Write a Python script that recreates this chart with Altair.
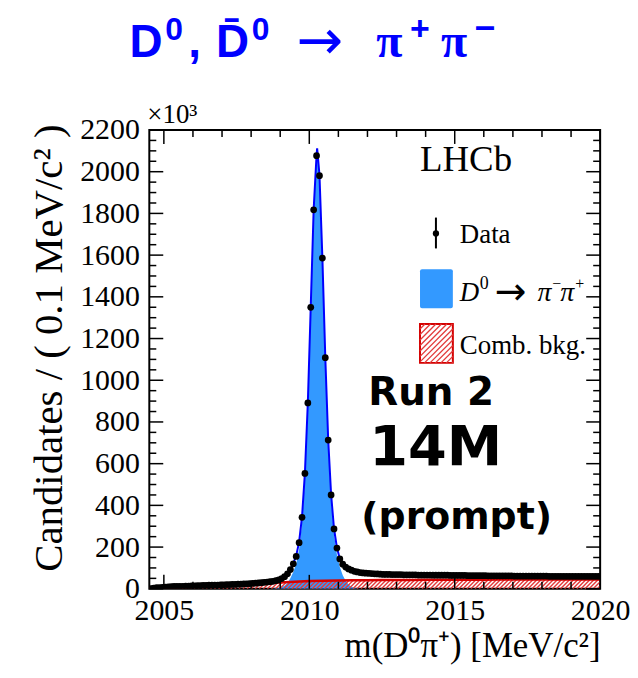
import altair as alt
import numpy as np
import pandas as pd

# ---------------- data ----------------
X_MIN, X_MAX = 2004.5, 2020.0
Y_MIN, Y_MAX = 0, 2200

# bin centres (0.1 MeV bins)
bin_centres = [round(2004.55 + 0.1 * i, 2) for i in range(155)]
counts = (
    [1, 3, 5, 6, 7, 8, 9, 10, 11, 11,
     12, 12, 13, 13, 14, 14, 15, 15, 16, 16,
     17, 17, 18, 18, 19, 19, 20, 20, 21, 21,
     22, 22, 23, 24, 25, 26, 27, 28, 29, 31,
     32, 34, 36, 39, 43, 49, 58, 72, 92]
    + [120, 155, 221, 343, 553, 891, 1350, 1817, 2077, 1981, 1586, 1108, 713, 450, 287, 195, 143]
    + [118, 104, 95, 89, 84, 81, 78, 76, 75, 74, 73, 72, 71, 70]
    + [69, 69, 69, 68, 68, 68, 68, 67, 67, 67,
       67, 67, 66, 66, 66, 66, 66, 65, 65, 65,
       65, 65, 65, 64, 64, 64, 64, 64, 64, 63,
       63, 63, 63, 63, 63, 63, 62, 62, 62, 62,
       62, 62, 62, 62, 62, 61, 61, 61, 61, 61,
       61, 61, 61, 61, 61, 61, 61, 60, 60, 60,
       60, 60, 60, 60, 60, 60, 60, 60, 60, 60,
       60, 60, 60, 60, 60]
)

fit_x = [2008.75, 2008.85, 2008.95, 2009.05, 2009.15, 2009.25, 2009.35, 2009.45,
         2009.55, 2009.65, 2009.75, 2009.85, 2009.95, 2010.05, 2010.15, 2010.25,
         2010.27, 2010.35, 2010.45, 2010.55, 2010.65, 2010.75, 2010.85, 2010.95,
         2011.05, 2011.15, 2011.25, 2011.35, 2011.45, 2011.55, 2011.65, 2011.75]
fit_total = [36, 39, 43, 49, 58, 72, 93, 122,
             158, 225, 345, 556, 893, 1352, 1818, 2080,
             2112, 1985, 1588, 1110, 715, 452, 289, 197,
             144, 118, 104, 95, 89, 84, 81, 78]
fit_signal = [1, 2, 4, 8, 15, 28, 50, 80,
              120, 190, 315, 525, 865, 1325, 1795, 2058,
              2092, 1963, 1566, 1087, 690, 425, 260, 165,
              105, 65, 38, 20, 10, 4, 1, 0]

bkg_x = [2004.5 + 0.5 * i for i in range(32)]
bkg_y = [0, 3, 5, 8, 11, 14, 18, 22, 26, 30, 34, 37, 39, 40, 41, 41,
         42, 42, 42, 43, 43, 43, 43, 43, 44, 44, 44, 44, 44, 44, 44, 44]

x_major = [2005, 2010, 2015, 2020]
x_minor = [v for v in range(2005, 2021) if v not in x_major]
y_major = list(range(0, 2201, 200))
y_minor = [v for v in range(0, 2201, 50) if v % 200 != 0]

# ---------------- layout ----------------
W, H = 453, 461
BLUE_FILL = "#3399ff"
FIT_BLUE = "#0000ff"
RED = "#d40000"
HATCH = "#e23a3a"
SERIF = "Liberation Serif"
SANS = "Liberation Sans"

xs = alt.Scale(domain=[X_MIN, X_MAX], nice=False, zero=False)
ys = alt.Scale(domain=[Y_MIN, Y_MAX], nice=False, zero=False)

x_axis = alt.Axis(values=x_major, format="d", ticks=False, domain=False, grid=False,
                  labelFont=SERIF, labelFontSize=30, labelColor="black",
                  labelPadding=7, labelFlush=False, labelOverlap=False,
                  title="m(D⁰π⁺) [MeV/c²]", titleFont=SERIF, titleFontSize=35,
                  titleFontWeight="normal", titleColor="black",
                  titleX=W, titleY=68, titleAlign="right", titleBaseline="alphabetic",
                  titleAngle=0)
y_axis = alt.Axis(values=y_major, format="d", ticks=False, domain=False, grid=False,
                  labelFont=SERIF, labelFontSize=30, labelColor="black",
                  labelPadding=10, labelFlush=False, labelOverlap=False,
                  title="Candidates / ( 0.1 MeV/c² )", titleFont=SERIF,
                  titleFontSize=41, titleFontWeight="normal", titleColor="black",
                  titleX=-100, titleY=-6, titleAngle=270, titleAlign="right",
                  titleBaseline="middle")


def X(f):
    return alt.X(f, type="quantitative", scale=xs, axis=x_axis)


def Y(f):
    return alt.Y(f, type="quantitative", scale=ys, axis=y_axis)


df_data = pd.DataFrame({"m": bin_centres, "n": counts})
df_fit = pd.DataFrame({"m": fit_x, "tot": fit_total, "sig": fit_signal})
df_bkg = pd.DataFrame({"m": bkg_x, "b": bkg_y})

# hatch segments under the background curve (45 degrees on screen)
px_x = W / (X_MAX - X_MIN)
px_y = H / (Y_MAX - Y_MIN)
rows = []
for s in np.arange(X_MIN, X_MAX, 0.14):
    b = np.interp(s, bkg_x, bkg_y)
    d = b * px_y / px_x
    for _ in range(3):
        b2 = np.interp(s + d, bkg_x, bkg_y)
        d = b2 * px_y / px_x
    if b2 > 0:
        rows.append({"m": s, "z": 0.0, "m2": s + d, "b2": b2})
df_hatch = pd.DataFrame(rows)

layers = []

# signal fill
layers.append(alt.Chart(df_fit).mark_area(color=BLUE_FILL, opacity=1, clip=True).encode(
    x=X("m"), y=Y("sig")))

# combinatorial background hatch + line
layers.append(alt.Chart(df_hatch).mark_rule(color=HATCH, strokeWidth=1.4, clip=True).encode(
    x=X("m"), y=Y("z"), x2="m2", y2="b2"))
layers.append(alt.Chart(df_bkg).mark_line(color=RED, strokeWidth=2.5, clip=True).encode(
    x=X("m"), y=Y("b")))

# total fit
layers.append(alt.Chart(df_fit).mark_line(color=FIT_BLUE, strokeWidth=2, clip=True).encode(
    x=X("m"), y=Y("tot")))

# data points
layers.append(alt.Chart(df_data).mark_circle(color="black", size=46, opacity=1, clip=True).encode(
    x=X("m"), y=Y("n")))

# ticks (inside, all four sides)
df_xmaj = pd.DataFrame({"m": x_major})
df_xmin = pd.DataFrame({"m": x_minor})
df_ymaj = pd.DataFrame({"n": y_major})
df_ymin = pd.DataFrame({"n": y_minor})
for df, ln in ((df_xmaj, 14), (df_xmin, 7)):
    layers.append(alt.Chart(df).mark_rule(color="black", strokeWidth=1.5).encode(
        x=X("m"), y=alt.value(H), y2=alt.value(H - ln)))
    layers.append(alt.Chart(df).mark_rule(color="black", strokeWidth=1.5).encode(
        x=X("m"), y=alt.value(0), y2=alt.value(ln)))
for df, ln in ((df_ymaj, 14), (df_ymin, 7)):
    layers.append(alt.Chart(df).mark_rule(color="black", strokeWidth=1.5).encode(
        y=Y("n"), x=alt.value(0), x2=alt.value(ln)))
    layers.append(alt.Chart(df).mark_rule(color="black", strokeWidth=1.5).encode(
        y=Y("n"), x=alt.value(W), x2=alt.value(W - ln)))


def txt(s, x, y, size, font=SERIF, weight="normal", style="normal", align="left",
        baseline="middle", color="black"):
    return alt.Chart(pd.DataFrame({"t": [s]})).mark_text(
        text=s, font=font, fontSize=size, fontWeight=weight, fontStyle=style,
        align=align, baseline=baseline, color=color).encode(
        x=alt.value(x), y=alt.value(y))


def one():
    return alt.Chart(pd.DataFrame({"k": [0]}))


# title, composed of pieces (main glyphs + superscripts)
TB = "#0000ff"
BASE, SUP = -73, -90
title_pieces = [
    ("D", -20, BASE, 46, SANS, "bold", "alphabetic"),
    ("0", 16, SUP, 32, SANS, "bold", "alphabetic"),
    (",", 39, BASE, 46, SANS, "bold", "alphabetic"),
    ("D̄", 67, BASE, 46, SANS, "bold", "alphabetic"),
    ("0", 103, SUP, 32, SANS, "bold", "alphabetic"),
    ("→", 148, -88, 56, "DejaVu Sans", "normal", "middle"),
    ("π", 228, BASE, 48, SERIF, "bold", "alphabetic"),
    ("+", 262, SUP, 34, SANS, "bold", "alphabetic"),
    ("π", 293, BASE, 48, SERIF, "bold", "alphabetic"),
    ("−", 327, SUP, 36, SANS, "bold", "alphabetic"),
]
for s, x, y, size, font, wt, bl in title_pieces:
    layers.append(txt(s, x, y, size, font=font, weight=wt, baseline=bl, color=TB))

layers.append(txt("×10³", -2, -7, 27, baseline="alphabetic"))
layers.append(txt("LHCb", 272, 30, 37))

# legend: data
layers.append(one().mark_rule(color="black", strokeWidth=2).encode(
    x=alt.value(288), y=alt.value(88), y2=alt.value(119)))
layers.append(one().mark_circle(color="black", size=40, opacity=1).encode(
    x=alt.value(288), y=alt.value(104)))
layers.append(txt("Data", 312, 106, 27))

# legend: signal
layers.append(one().mark_rect(color=BLUE_FILL, cornerRadius=2).encode(
    x=alt.value(272), x2=alt.value(305), y=alt.value(140), y2=alt.value(179)))
LB, LS = 172, 160
leg_pieces = [
    ("D", 312, LB, 27, "italic", SERIF),
    ("0", 332, LS, 18, "normal", SERIF),
    ("→", 347, LB + 3, 38, "normal", "DejaVu Sans"),
    ("π", 390, LB, 28, "italic", SERIF),
    ("−", 405, LS, 16, "normal", SERIF),
    ("π", 413, LB, 28, "italic", SERIF),
    ("+", 428, LS, 16, "normal", SERIF),
]
for s, x, y, size, style, font in leg_pieces:
    layers.append(txt(s, x, y, size, font=font, style=style, baseline="alphabetic"))

# legend: combinatorial background (hatched box)
bx0, bx1, by0, by1 = 272, 305, 195, 234
layers.append(one().mark_rect(fill="white", stroke=RED, strokeWidth=2).encode(
    x=alt.value(bx0), x2=alt.value(bx1), y=alt.value(by0), y2=alt.value(by1)))
w_, h_ = bx1 - bx0, by1 - by0
for c in np.arange(5, w_ + h_, 5.5):
    if c <= w_:
        p1 = (bx0 + c, by0)
    else:
        p1 = (bx1, by0 + c - w_)
    if c <= h_:
        p2 = (bx0, by0 + c)
    else:
        p2 = (bx0 + c - h_, by1)
    layers.append(one().mark_rule(color=HATCH, strokeWidth=1.3).encode(
        x=alt.value(float(p1[0])), y=alt.value(float(p1[1])),
        x2=alt.value(float(p2[0])), y2=alt.value(float(p2[1]))))
layers.append(txt("Comb. bkg.", 312, 217, 27))

# big annotation
SANS_B = "DejaVu Sans"
layers.append(txt("Run 2", 220, 264, 39, font=SANS_B, weight="bold"))
layers.append(txt("14M", 221, 320, 56, font=SANS_B, weight="bold"))
layers.append(txt("(prompt)", 213, 390, 38, font=SANS_B, weight="bold"))

chart = alt.layer(*layers).properties(
    width=W, height=H,
    autosize=alt.AutoSizeParams(type="none"),
    padding={"left": 142, "top": 121, "right": 30, "bottom": 76},
    background="white",
).configure_view(stroke="black", strokeWidth=2)

chart.save("out.html", embed_options={"renderer": "svg", "actions": False})
